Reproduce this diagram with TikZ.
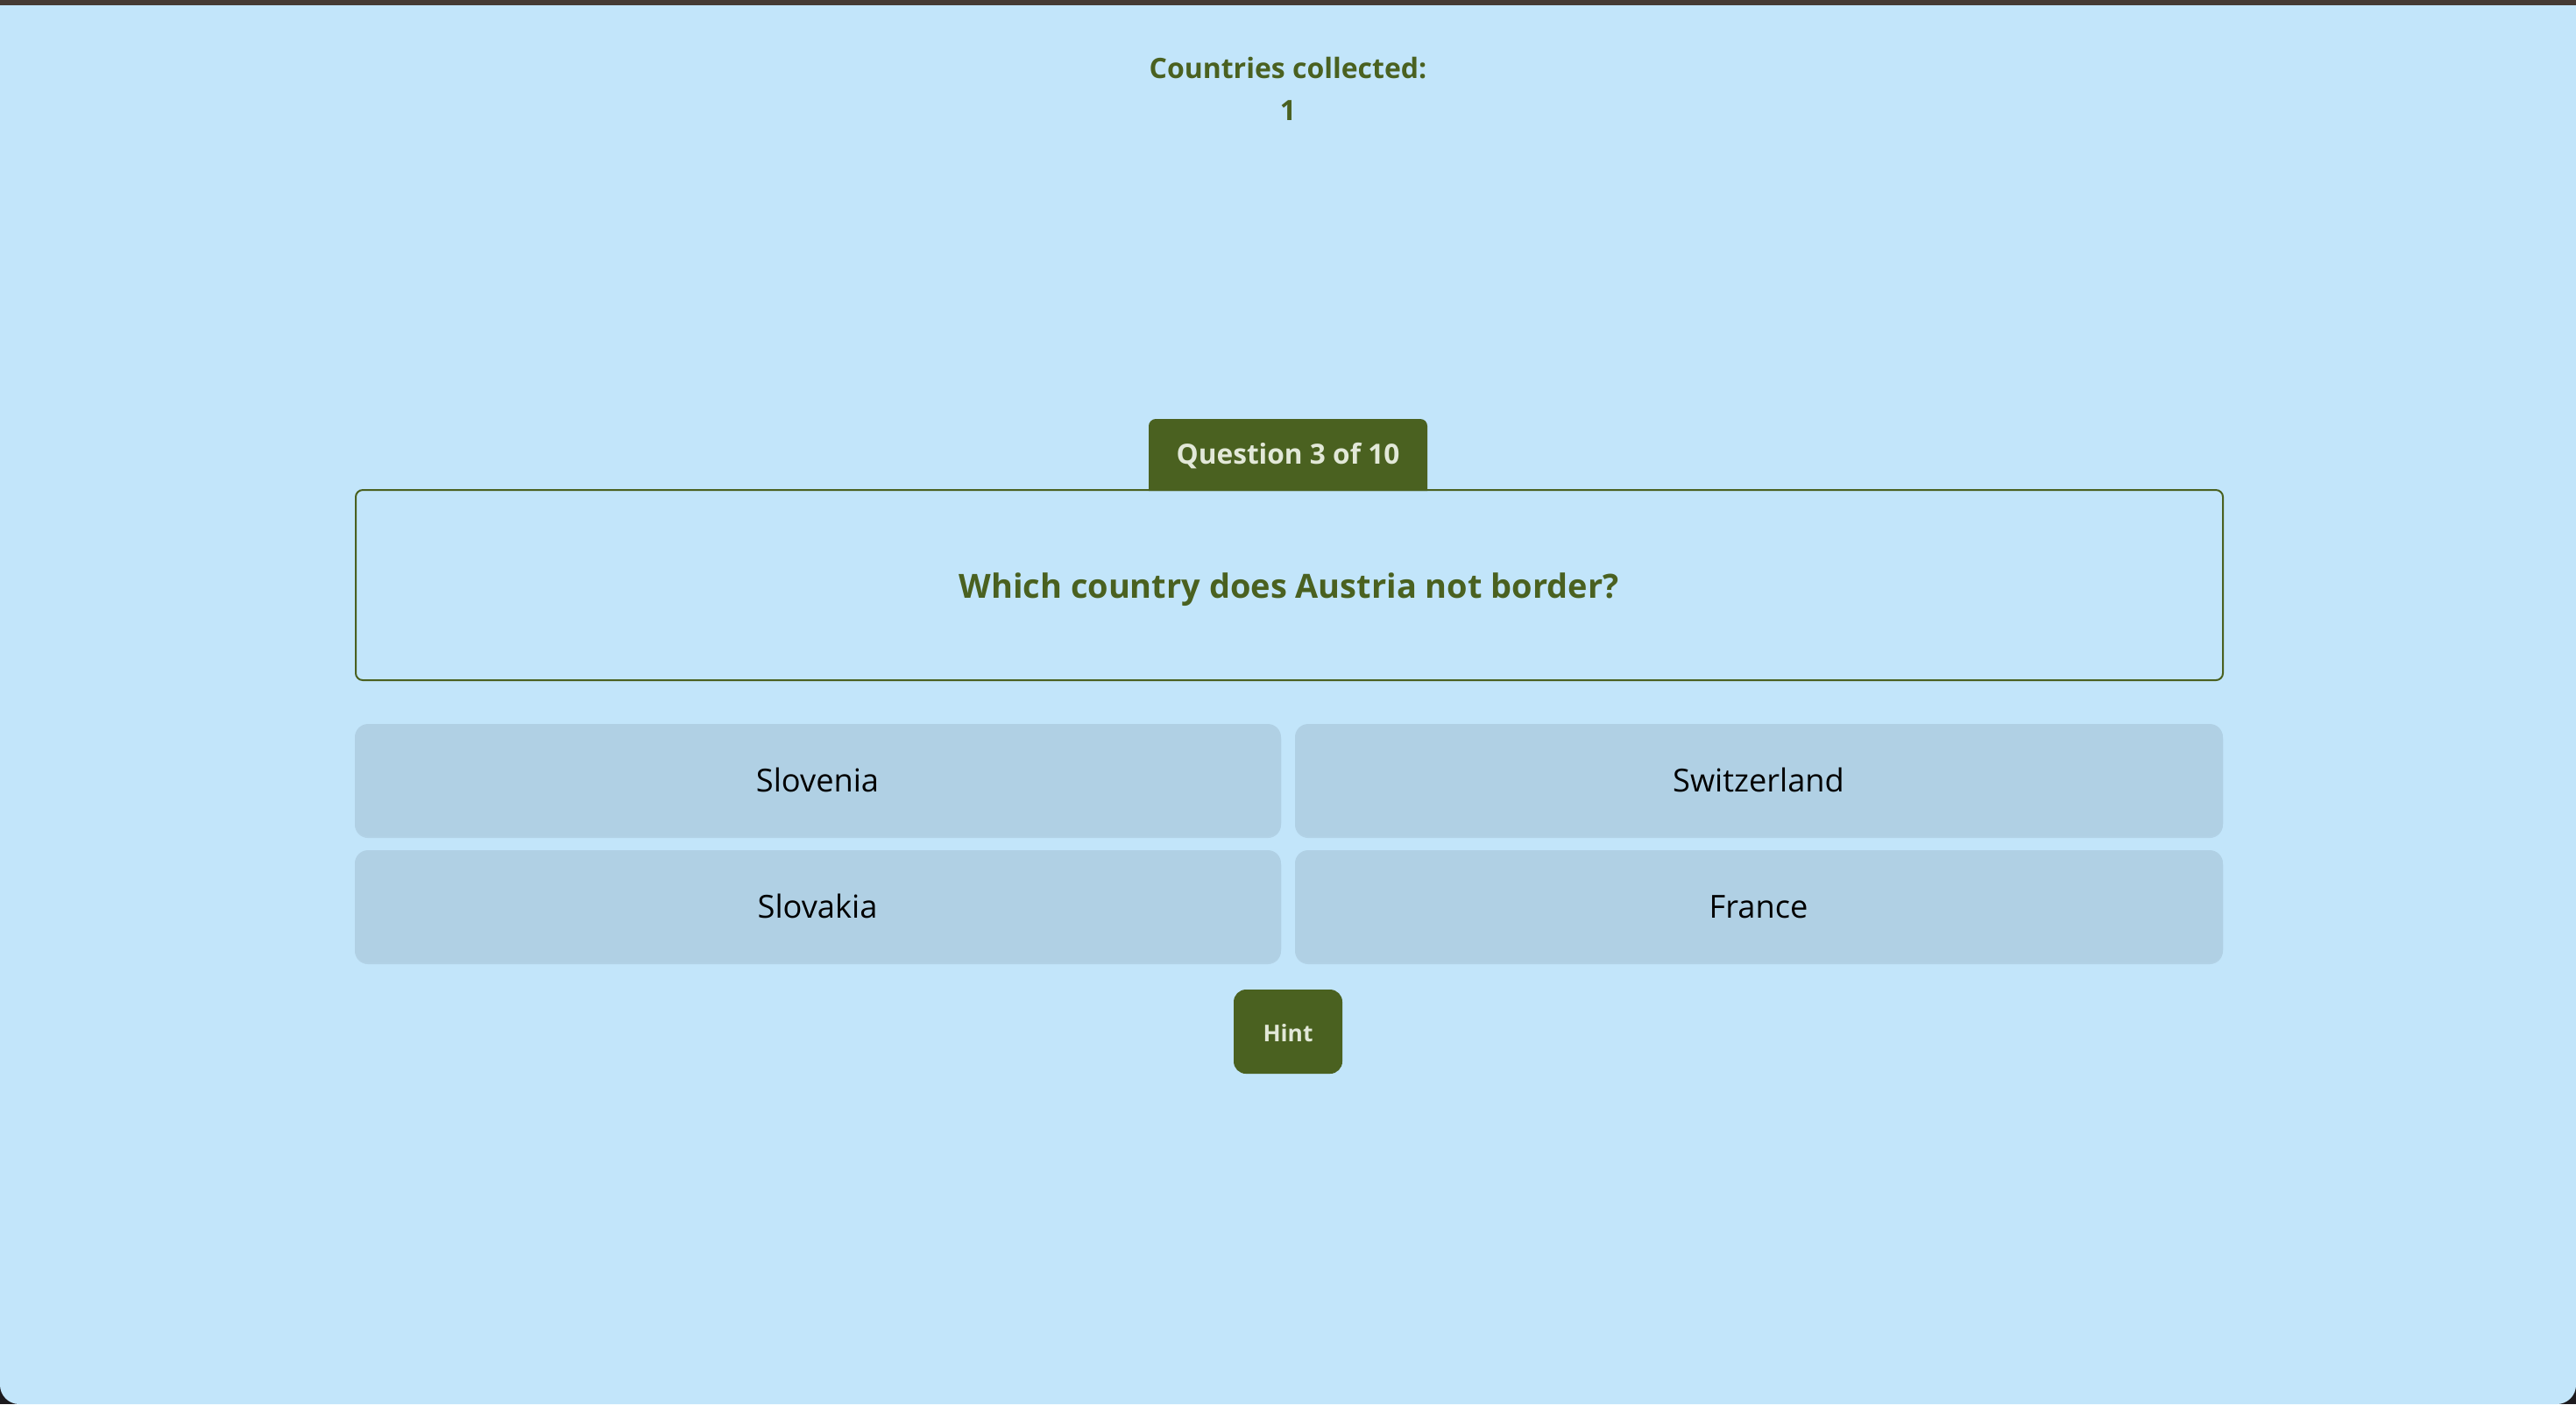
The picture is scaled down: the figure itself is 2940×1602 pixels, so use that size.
\documentclass[tikz,border=0pt]{standalone}
\usepackage{fontspec}
\setmainfont{Open Sans}
\usepackage{xcolor}

\definecolor{pagebg}{HTML}{C2E5FA}
\definecolor{quizgreen}{HTML}{4A6120}
\definecolor{tablabel}{HTML}{E2E8D8}
\definecolor{answerbg}{HTML}{B0D0E4}
\definecolor{answershade}{HTML}{B2D2E6}
\definecolor{topbar}{HTML}{453A34}
\definecolor{outside}{HTML}{1C1A1E}

\tikzset{
  counter/.style={anchor=base,inner sep=0pt,text=quizgreen,
    font=\bfseries\fontsize{9.1}{11}\selectfont},
  tabtitle/.style={anchor=base,inner sep=0pt,text=tablabel,
    font=\bfseries\fontsize{9.0}{11}\selectfont},
  prompt/.style={anchor=base,inner sep=0pt,text=quizgreen,
    font=\bfseries\fontsize{10.8}{13}\selectfont},
  choice/.style={anchor=base,inner sep=0pt,text=black,
    font=\fontsize{10.3}{12}\selectfont},
  hintlabel/.style={anchor=base,inner sep=0pt,text=tablabel,
    font=\bfseries\fontsize{7.5}{10}\selectfont},
  choicebox/.style={fill=answerbg,rounded corners=1.5mm},
}

\begin{document}
\begin{tikzpicture}[x=0.1mm,y=-0.1mm]
  % page, with the window's rounded bottom corners
  \fill[outside] (0,0) rectangle (2940,1602);
  \fill[pagebg,rounded corners=2.2mm] (0,6) rectangle (2940,1602);
  \fill[pagebg] (0,6) rectangle (2940,100);
  \fill[topbar] (0,0) rectangle (2940,6);

  % score
  \node (cc) [counter] at (1470,89) {Countries collected:};
  \node (ccn) [counter] at (1470,137) {1};

  % question card with its tab
  \fill[quizgreen] (1311,560) [rounded corners=0.8mm] -- (1311,478)
    -- (1629,478) [sharp corners] -- (1629,560) -- cycle;
  \node (qt) [tabtitle] at (1470,529) {Question 3 of 10};
  \draw[quizgreen,line width=0.2mm,rounded corners=0.8mm]
    (406,559) rectangle (2537,776);
  \node (qq) [prompt] at (1471,682) {Which country does Austria not border?};

  % answers
  \fill[answershade,rounded corners=1.5mm] (405,828) rectangle (1462,956);
  \fill[answershade,rounded corners=1.5mm] (1478,828) rectangle (2537,956);
  \fill[answershade,rounded corners=1.5mm] (405,972) rectangle (1462,1100);
  \fill[answershade,rounded corners=1.5mm] (1478,972) rectangle (2537,1100);
  \fill[choicebox] (405,826) rectangle (1462,954);
  \fill[choicebox] (1478,826) rectangle (2537,954);
  \fill[choicebox] (405,970) rectangle (1462,1098);
  \fill[choicebox] (1478,970) rectangle (2537,1098);
  \node (a1) [choice] at (933,903) {Slovenia};
  \node (a2) [choice] at (2007,903) {Switzerland};
  \node (a3) [choice] at (933,1047) {Slovakia};
  \node (a4) [choice] at (2007,1047) {France};

  % hint
  \fill[quizgreen,rounded corners=1.4mm] (1408,1129) rectangle (1532,1225);
  \node (hb) [hintlabel] at (1470,1188) {Hint};
\end{tikzpicture}
\end{document}
